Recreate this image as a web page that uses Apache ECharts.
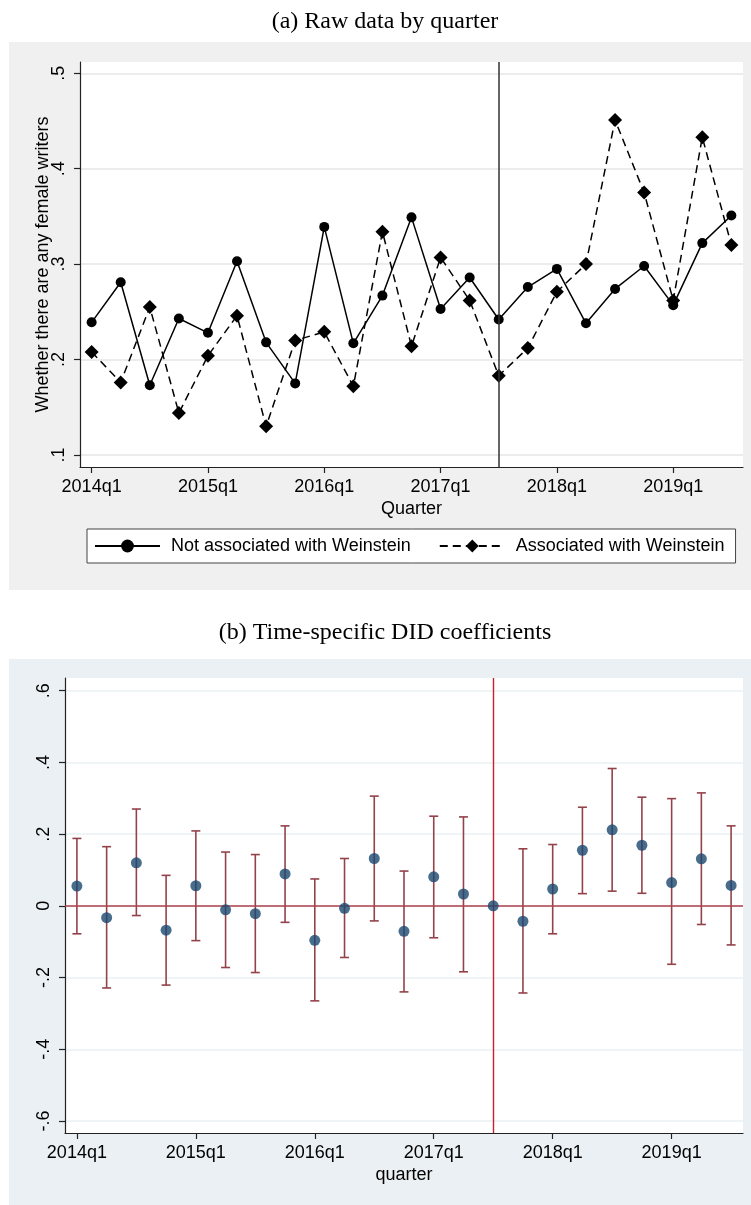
<!DOCTYPE html>
<html><head><meta charset="utf-8">
<script src="https://cdn.jsdelivr.net/npm/echarts@6/dist/echarts.min.js"></script>
<style>html,body{margin:0;padding:0;background:#fff}#c{width:751px;height:1205px}</style>
</head><body><div id="c"></div>
<script>
const quarters = ['2014q1','2014q2','2014q3','2014q4','2015q1','2015q2','2015q3','2015q4',
  '2016q1','2016q2','2016q3','2016q4','2017q1','2017q2','2017q3','2017q4',
  '2018q1','2018q2','2018q3','2018q4','2019q1','2019q2','2019q3'];
const xTickIdx = [0, 4, 8, 12, 16, 20];
const eventIdx = 14;

const notAssoc = [0.239, 0.281, 0.173, 0.243, 0.228, 0.303, 0.218, 0.175, 0.339, 0.217, 0.267, 0.349,
  0.253, 0.286, 0.242, 0.276, 0.295, 0.238, 0.274, 0.298, 0.257, 0.322, 0.351];
const assoc = [0.208, 0.176, 0.255, 0.144, 0.204, 0.246, 0.130, 0.220, 0.229, 0.172, 0.334, 0.214,
  0.307, 0.262, 0.183, 0.212, 0.271, 0.300, 0.451, 0.375, 0.262, 0.433, 0.320];
const topYTicks = [0.1, 0.2, 0.3, 0.4, 0.5];
const topYLabels = ['.1', '.2', '.3', '.4', '.5'];

const coef = [0.055, -0.033, 0.120, -0.068, 0.056, -0.011, -0.022, 0.089, -0.096, -0.007, 0.132, -0.071,
  0.081, 0.033, 0, -0.043, 0.047, 0.155, 0.212, 0.169, 0.065, 0.131, 0.057];
const ciLow = [-0.078, -0.229, -0.027, -0.221, -0.097, -0.172, -0.186, -0.046, -0.265, -0.144, -0.042, -0.240,
  -0.089, -0.184, null, -0.243, -0.078, 0.034, 0.041, 0.035, -0.163, -0.052, -0.109];
const ciHigh = [0.188, 0.165, 0.270, 0.085, 0.209, 0.150, 0.143, 0.223, 0.075, 0.132, 0.306, 0.097,
  0.250, 0.248, null, 0.159, 0.171, 0.275, 0.383, 0.303, 0.299, 0.315, 0.223];
const botYTicks = [-0.6, -0.4, -0.2, 0, 0.2, 0.4, 0.6];
const botYLabels = ['-.6', '-.4', '-.2', '0', '.2', '.4', '.6'];

const SANS = 'Liberation Sans';
const SERIF = 'Liberation Serif';
function lab(ticks, labels) {
  return function (v) {
    for (let i = 0; i < ticks.length; i++) if (Math.abs(ticks[i] - v) < 1e-6) return labels[i];
    return '';
  };
}
const qLab = v => quarters[Math.round(v)] || '';

const chart = echarts.init(document.getElementById('c'), null, {renderer: 'canvas'});

function xAxisCfg(grid, name) {
  return {
    type: 'value', gridIndex: grid, min: -0.4, max: 22.4, name: name,
    nameLocation: 'middle', nameGap: 33,
    nameTextStyle: {fontFamily: SANS, fontSize: 18, color: '#000'},
    axisLine: {show: true, onZero: false, lineStyle: {color: '#222', width: 1.2}},
    axisTick: {show: true, length: 6, customValues: xTickIdx, lineStyle: {color: '#222', width: 1.2}},
    axisLabel: {customValues: xTickIdx, formatter: qLab, fontFamily: SANS, fontSize: 18, color: '#000', margin: 11},
    splitLine: {show: false}
  };
}
function yAxisCfg(grid, min, max, ticks, labels, gridColor, name) {
  return {
    type: 'value', gridIndex: grid, min: min, max: max, name: name,
    nameLocation: 'middle', nameRotate: 90, nameGap: 28, nameMoveOverlap: false,
    nameTextStyle: {fontFamily: SANS, fontSize: 18, color: '#000'},
    axisLine: {show: true, onZero: false, lineStyle: {color: '#222', width: 1.2}},
    axisTick: {show: true, length: 6, customValues: ticks, lineStyle: {color: '#222', width: 1.2}},
    axisLabel: {customValues: ticks, formatter: lab(ticks, labels), rotate: 90, fontFamily: SANS, fontSize: 18, color: '#000', margin: 12},
    splitLine: {show: true, lineStyle: {color: gridColor, width: 1.5}}
  };
}

const ciColor = '#93424a';

const option = {
  backgroundColor: '#fff',
  animation: false,
  graphic: [
    {type: 'rect', z: -100, silent: true, shape: {x: 9, y: 42, width: 742, height: 548}, style: {fill: '#F0F0F0'}},
    {type: 'rect', z: -100, silent: true, shape: {x: 9, y: 659, width: 742, height: 546}, style: {fill: '#EAF0F3'}},
    {type: 'text', x: 385, y: 22, silent: true, style: {text: '(a) Raw data by quarter', fontFamily: SERIF, fontSize: 24, fill: '#000', textAlign: 'center', textVerticalAlign: 'middle'}},
    {type: 'text', x: 385, y: 633, silent: true, style: {text: '(b) Time-specific DID coefficients', fontFamily: SERIF, fontSize: 24, fill: '#000', textAlign: 'center', textVerticalAlign: 'middle'}}
  ],
  grid: [
    {left: 80, top: 62, width: 663, height: 405, show: true, backgroundColor: '#fff', borderWidth: 0, outerBoundsMode: 'none'},
    {left: 65, top: 678, width: 678, height: 455, show: true, backgroundColor: '#fff', borderWidth: 0, outerBoundsMode: 'none'}
  ],
  legend: {
    left: 87, top: 529, orient: 'horizontal',
    backgroundColor: '#fff', borderColor: '#444', borderWidth: 1, borderRadius: 0,
    padding: [8, 11, 8, 7], itemWidth: 65, itemHeight: 16, itemGap: 28,
    textStyle: {fontFamily: SANS, fontSize: 18, color: '#000', padding: [0, 0, 0, 6]},
    data: ['Not associated with Weinstein', 'Associated with Weinstein']
  },
  xAxis: [xAxisCfg(0, 'Quarter'), xAxisCfg(1, 'quarter')],
  yAxis: [
    yAxisCfg(0, 0.0874, 0.5118, topYTicks, topYLabels, '#E6E6E6', 'Whether there are any female writers'),
    yAxisCfg(1, -0.6335, 0.6354, botYTicks, botYLabels, '#EAF0F3', '')
  ],
  series: [
    {
      name: 'Not associated with Weinstein', type: 'line', xAxisIndex: 0, yAxisIndex: 0,
      data: notAssoc.map((v, i) => [i, v]),
      symbol: 'circle', symbolSize: 10,
      lineStyle: {color: '#000', width: 1.5, type: 'solid'},
      itemStyle: {color: '#000'},
      z: 3,
      markLine: {
        silent: true, symbol: 'none', label: {show: false},
        lineStyle: {color: '#333', width: 1.5, type: 'solid'},
        data: [{xAxis: eventIdx}]
      }
    },
    {
      name: 'Associated with Weinstein', type: 'line', xAxisIndex: 0, yAxisIndex: 0,
      data: assoc.map((v, i) => [i, v]),
      symbol: 'diamond', symbolSize: 14,
      lineStyle: {color: '#000', width: 1.5, type: [8, 5]},
      itemStyle: {color: '#000'},
      z: 4
    },
    {
      name: 'ci', type: 'custom', xAxisIndex: 1, yAxisIndex: 1,
      data: coef.map((v, i) => [i, ciLow[i], ciHigh[i]]).filter(d => d[1] !== null),
      renderItem: function (params, api) {
        const x = api.value(0);
        const pLo = api.coord([x, api.value(1)]);
        const pHi = api.coord([x, api.value(2)]);
        const cap = 4.5;
        const st = {stroke: ciColor, lineWidth: 1.6};
        return {type: 'group', children: [
          {type: 'line', shape: {x1: pLo[0], y1: pLo[1], x2: pHi[0], y2: pHi[1]}, style: st},
          {type: 'line', shape: {x1: pHi[0] - cap, y1: pHi[1], x2: pHi[0] + cap, y2: pHi[1]}, style: st},
          {type: 'line', shape: {x1: pLo[0] - cap, y1: pLo[1], x2: pLo[0] + cap, y2: pLo[1]}, style: st}
        ]};
      },
      z: 2
    },
    {
      name: 'coef', type: 'scatter', xAxisIndex: 1, yAxisIndex: 1,
      data: coef.map((v, i) => [i, v]),
      symbol: 'circle', symbolSize: 11,
      itemStyle: {color: '#1a476f'},
      z: 5,
      markLine: {
        silent: true, symbol: 'none', label: {show: false},
        data: [
          {yAxis: 0, lineStyle: {color: '#b0414c', width: 1.6, type: 'solid'}},
          {xAxis: eventIdx, lineStyle: {color: '#c8202f', width: 1.4, type: 'solid'}}
        ]
      }
    }
  ]
};
chart.setOption(option);
</script></body></html>
